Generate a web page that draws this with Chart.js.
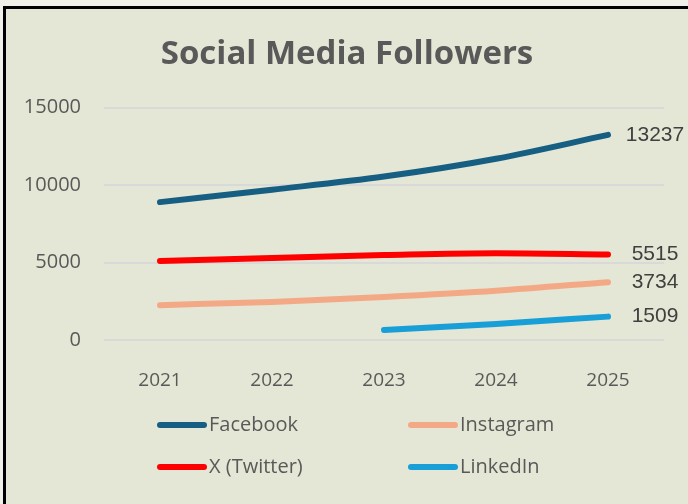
<!DOCTYPE html>
<html>
<head>
<meta charset="utf-8">
<script src="https://cdn.jsdelivr.net/npm/chart.js@4.4.1/dist/chart.umd.min.js"></script>
<style>
  body { margin: 0; background: #eff1e8; width: 688px; height: 504px; overflow: hidden; }
  #frame {
    position: absolute; left: 3px; top: 6px;
    width: 685px; height: 498px;
    border-left: 3px solid #000; border-top: 3px solid #000;
    background: #e4e7d5;
  }
  canvas { display: block; }
</style>
</head>
<body>
<div id="frame"><canvas id="followers" width="682" height="495"></canvas></div>
<script>
const years = ["2021", "2022", "2023", "2024", "2025"];
const facebook = [8900, 9700, 10550, 11700, 13237];
const twitter = [5100, 5300, 5480, 5600, 5515];
const instagram = [2250, 2460, 2780, 3180, 3734];
const linkedin = [null, null, 650, 1040, 1509];
const yTicks = [0, 5000, 10000, 15000];

// arvo viivan päähän
const endLabels = {
    id: "endLabels",
    afterDatasetsDraw(chart) {
        const ctx = chart.ctx;
        ctx.save();
        ctx.font = "21px 'Liberation Sans', Arial, sans-serif";
        ctx.fillStyle = "#404040";
        ctx.textAlign = "center";
        ctx.textBaseline = "middle";
        chart.data.datasets.forEach((ds, i) => {
            const meta = chart.getDatasetMeta(i);
            const last = meta.data[meta.data.length - 1];
            ctx.fillText(ds.data[ds.data.length - 1], last.x + 47, last.y);
        });
        ctx.restore();
    }
};

// selite kahteen sarakkeeseen
const gridLegend = {
    id: "gridLegend",
    afterDraw(chart) {
        const ctx = chart.ctx;
        const cols = [151, 402];
        const rows = [416, 458];
        ctx.save();
        ctx.font = "20px 'Open Sans', sans-serif";
        ctx.textBaseline = "middle";
        ctx.textAlign = "left";
        chart.data.datasets.forEach((ds, i) => {
            const x = cols[i % 2];
            const y = rows[Math.floor(i / 2)];
            ctx.strokeStyle = ds.borderColor;
            ctx.lineWidth = 6;
            ctx.lineCap = "round";
            ctx.beginPath();
            ctx.moveTo(x + 3, y);
            ctx.lineTo(x + 47, y);
            ctx.stroke();
            ctx.fillStyle = "#595959";
            ctx.fillText(ds.label, x + 52, y);
        });
        ctx.restore();
    }
};

const lineStyle = {
    borderWidth: 6,
    pointRadius: 0,
    pointHoverRadius: 0,
    tension: 0.4,
    cubicInterpolationMode: "monotone",
    borderCapStyle: "round",
    fill: false
};

const context = document.getElementById("followers").getContext("2d");
const followersChart = new Chart(context, {
    type: "line",
    data: {
        labels: years,
        datasets: [
            { label: "Facebook", data: facebook, borderColor: "#175f82", ...lineStyle },
            { label: "Instagram", data: instagram, borderColor: "#f4a986", ...lineStyle },
            { label: "X (Twitter)", data: twitter, borderColor: "#ff0000", ...lineStyle },
            { label: "LinkedIn", data: linkedin, borderColor: "#189fd7", ...lineStyle }
        ]
    },
    options: {
        responsive: false,
        animation: false,
        layout: { padding: { left: 0, right: 0, top: 0, bottom: 100 } },
        plugins: {
            legend: { display: false },
            tooltip: { enabled: false },
            title: {
                display: true,
                text: "Social Media Followers",
                color: "#595959",
                font: { family: "'Open Sans', sans-serif", size: 33, weight: "bold", lineHeight: 1.2 },
                padding: { top: 26, bottom: 33 }
            }
        },
        scales: {
            x: {
                offset: true,
                grid: { display: false },
                border: { display: false },
                ticks: {
                    color: "#595959",
                    font: { family: "'Open Sans', sans-serif", size: 19 },
                    padding: 21
                },
                afterFit: (scale) => { scale.height = 64; }
            },
            y: {
                min: 0,
                max: 15000,
                afterBuildTicks: (scale) => { scale.ticks = yTicks.map((v) => ({ value: v })); },
                grid: { color: "#d9d9d9", lineWidth: 2, drawTicks: false },
                border: { display: false },
                ticks: {
                    color: "#595959",
                    font: { family: "'Open Sans', sans-serif", size: 20 },
                    padding: 23,
                    callback: (value) => String(value)
                },
                afterFit: (scale) => { scale.width = 98; }
            },
            // tyhjä oikea akseli jättää tilaa arvoille
            yRight: {
                position: "right",
                grid: { display: false },
                border: { display: false },
                ticks: { display: false },
                afterFit: (scale) => { scale.width = 24; }
            }
        }
    },
    plugins: [endLabels, gridLegend]
});
</script>
</body>
</html>
